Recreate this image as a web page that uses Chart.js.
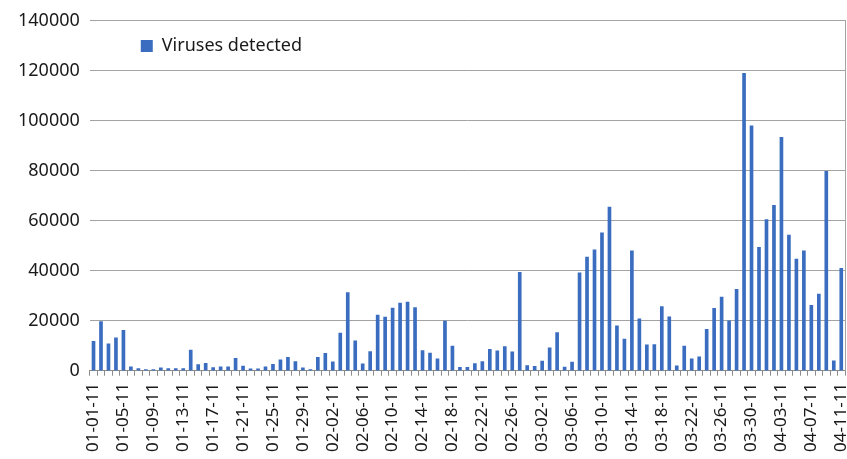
<!DOCTYPE html>
<html>
<head>
<meta charset="utf-8">
<title>Viruses detected</title>
<script src="https://cdn.jsdelivr.net/npm/chart.js@4.4.0/dist/chart.umd.min.js"></script>
<style>
    html, body { margin: 0; padding: 0; background: #fff; }
    #wrap { width: 847px; height: 459px; position: relative; }
</style>
</head>
<body>
<div id="wrap"><canvas id="myChart"></canvas></div>
<script>
// daily categories, Jan 1 - Apr 11 2011
var days = [
    '01-01-11', '01-02-11', '01-03-11', '01-04-11', '01-05-11', '01-06-11', '01-07-11', '01-08-11',
    '01-09-11', '01-10-11', '01-11-11', '01-12-11', '01-13-11', '01-14-11', '01-15-11', '01-16-11',
    '01-17-11', '01-18-11', '01-19-11', '01-20-11', '01-21-11', '01-22-11', '01-23-11', '01-24-11',
    '01-25-11', '01-26-11', '01-27-11', '01-28-11', '01-29-11', '01-30-11', '01-31-11',
    '02-01-11', '02-02-11', '02-03-11', '02-04-11', '02-05-11', '02-06-11', '02-07-11', '02-08-11',
    '02-09-11', '02-10-11', '02-11-11', '02-12-11', '02-13-11', '02-14-11', '02-15-11', '02-16-11',
    '02-17-11', '02-18-11', '02-19-11', '02-20-11', '02-21-11', '02-22-11', '02-23-11', '02-24-11',
    '02-25-11', '02-26-11', '02-27-11', '02-28-11',
    '03-01-11', '03-02-11', '03-03-11', '03-04-11', '03-05-11', '03-06-11', '03-07-11', '03-08-11',
    '03-09-11', '03-10-11', '03-11-11', '03-12-11', '03-13-11', '03-14-11', '03-15-11', '03-16-11',
    '03-17-11', '03-18-11', '03-19-11', '03-20-11', '03-21-11', '03-22-11', '03-23-11', '03-24-11',
    '03-25-11', '03-26-11', '03-27-11', '03-28-11', '03-29-11', '03-30-11', '03-31-11',
    '04-01-11', '04-02-11', '04-03-11', '04-04-11', '04-05-11', '04-06-11', '04-07-11', '04-08-11',
    '04-09-11', '04-10-11', '04-11-11'
];

// values
var virusesDetected = [
    11800, 19700, 10800, 13200, 16200, 1600, 900, 500, 500, 1200, 900, 900, 900, 8300, 2500, 3000,
    1300, 1600, 1600, 5000, 1850, 800, 800, 1600, 2600, 4400, 5400, 3700, 1200, 500, 5400,
    7000, 3600, 15100, 31300, 12000, 2800, 7700, 22300, 21500, 25100, 27100, 27500, 25300, 8100, 7100,
    4800, 19900, 9900, 1400, 1400, 2900, 3700, 8600, 8000, 9700, 7600, 39400, 2100,
    1800, 3900, 9200, 15300, 1500, 3500, 39200, 45500, 48400, 55200, 65500, 18000, 12700, 48000, 20800,
    10400, 10500, 25700, 21600, 2000, 9900, 4800, 5600, 16600, 25000, 29500, 20000, 32600, 119000, 98000,
    49400, 60500, 66200, 93400, 54300, 44700, 48000, 26200, 30700, 79800, 4000, 41000
];

var yTicks = [0, 20000, 40000, 60000, 80000, 100000, 120000, 140000];
var labelEvery = 4;

var barColor = '#3a6dbf';
var gridColor = '#a3a3a3';

document.addEventListener('DOMContentLoaded', function () {
    Chart.defaults.font.family = '"Noto Sans", "Open Sans", sans-serif';
    Chart.defaults.color = '#1a1a1a';

    // move the in-plot legend to where the original has it
    var legendShift = {
        id: 'legendShift',
        afterLayout: function (chart) {
            var lg = chart.legend;
            if (lg) {
                lg.left += 41;
                lg.right += 41;
                lg.top += 27;
                lg.bottom += 27;
            }
        }
    };

    var ctx = document.getElementById('myChart').getContext('2d');

    var myChart = new Chart(ctx, {
        type: 'bar',
        data: {
            labels: days,
            datasets: [{
                label: 'Viruses detected',
                data: virusesDetected,
                backgroundColor: barColor,
                borderWidth: 0,
                barThickness: 3
            }]
        },
        options: {
            responsive: true,
            maintainAspectRatio: false,
            animation: false,
            layout: { padding: { top: 6, right: 2, left: 8, bottom: 0 } },
            plugins: {
                tooltip: { enabled: false },
                legend: {
                    position: 'chartArea',
                    align: 'start',
                    labels: {
                        boxWidth: 12,
                        boxHeight: 12,
                        padding: 10,
                        font: { size: 18 },
                        color: '#1a1a1a'
                    }
                }
            },
            scales: {
                x: {
                    grid: {
                        display: true,
                        drawOnChartArea: false,
                        drawTicks: true,
                        tickLength: 5,
                        color: '#8c8c8c'
                    },
                    border: { display: true, color: '#8c8c8c' },
                    afterFit: function (scale) {
                        // rotated end label may hang over the edge, as in the original
                        scale.paddingRight = 0;
                    },
                    ticks: {
                        autoSkip: false,
                        minRotation: 90,
                        maxRotation: 90,
                        padding: 7,
                        font: { size: 17 },
                        callback: function (value, index) {
                            return index % labelEvery === 0 ? days[index] : '';
                        }
                    }
                },
                y: {
                    min: yTicks[0],
                    max: yTicks[yTicks.length - 1],
                    afterBuildTicks: function (axis) {
                        axis.ticks = yTicks.map(function (v) { return { value: v }; });
                    },
                    grid: { color: gridColor, drawTicks: false },
                    border: { display: false },
                    ticks: {
                        padding: 10,
                        font: { size: 18 },
                        callback: function (value) { return String(value); }
                    }
                },
                yRight: {
                    position: 'right',
                    min: yTicks[0],
                    max: yTicks[yTicks.length - 1],
                    grid: { display: false, drawTicks: false },
                    border: { display: true, color: '#a3a3a3' },
                    ticks: { display: false }
                }
            }
        },
        plugins: [legendShift]
    });
});
</script>
</body>
</html>
